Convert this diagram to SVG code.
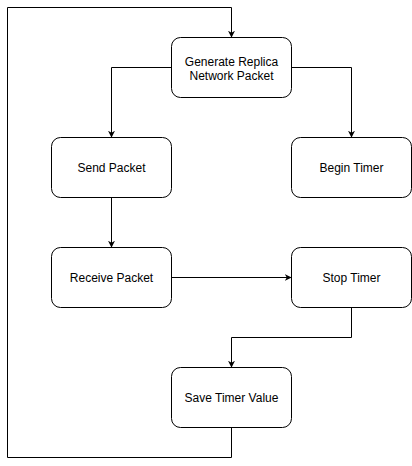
<svg xmlns="http://www.w3.org/2000/svg" width="412" height="466" viewBox="0 0 412 466">
<style>
.node rect{fill:#fff;stroke:#000;stroke-width:1}
.node text{font-family:"Liberation Sans",Arial,sans-serif;font-size:12px;fill:#000;text-anchor:middle}
.edge{fill:none;stroke:#000;stroke-width:1}
</style>
<defs>
<marker id="arr" viewBox="0 0 10 10" refX="9" refY="5" markerWidth="7" markerHeight="7" markerUnits="userSpaceOnUse" orient="auto">
<path d="M0,0 L10,5 L0,10 L3,5 Z" fill="#000"/>
</marker>
</defs>
<rect width="412" height="466" fill="#fff"/>
<g id="connectors">
<path class="edge" d="M171.5,67.5 H111.5 V137" marker-end="url(#arr)"/>
<path class="edge" d="M291.5,67.5 H351.5 V137" marker-end="url(#arr)"/>
<path class="edge" d="M111.5,197.5 V247" marker-end="url(#arr)"/>
<path class="edge" d="M171.5,277.5 H291" marker-end="url(#arr)"/>
<path class="edge" d="M351.5,307.5 V337.5 H231.5 V367" marker-end="url(#arr)"/>
<path class="edge" d="M231.5,427.5 V457.5 H7.5 V7.5 H231.5 V37" marker-end="url(#arr)"/>
</g>
<g id="generate" class="node">
<rect x="171.5" y="37.5" width="120" height="60" rx="9"/>
<text x="231.5" y="65.5">Generate Replica</text>
<text x="231.5" y="79.5">Network Packet</text>
</g>
<g id="send" class="node">
<rect x="51.5" y="137.5" width="120" height="60" rx="9"/>
<text x="111.5" y="171.5">Send Packet</text>
</g>
<g id="begin" class="node">
<rect x="291.5" y="137.5" width="120" height="60" rx="9"/>
<text x="351.5" y="171.5">Begin Timer</text>
</g>
<g id="receive" class="node">
<rect x="51.5" y="247.5" width="120" height="60" rx="9"/>
<text x="111.5" y="281.5">Receive Packet</text>
</g>
<g id="stop" class="node">
<rect x="291.5" y="247.5" width="120" height="60" rx="9"/>
<text x="351.5" y="281.5">Stop Timer</text>
</g>
<g id="save" class="node">
<rect x="171.5" y="367.5" width="120" height="60" rx="9"/>
<text x="231.5" y="401.5">Save Timer Value</text>
</g>
</svg>
